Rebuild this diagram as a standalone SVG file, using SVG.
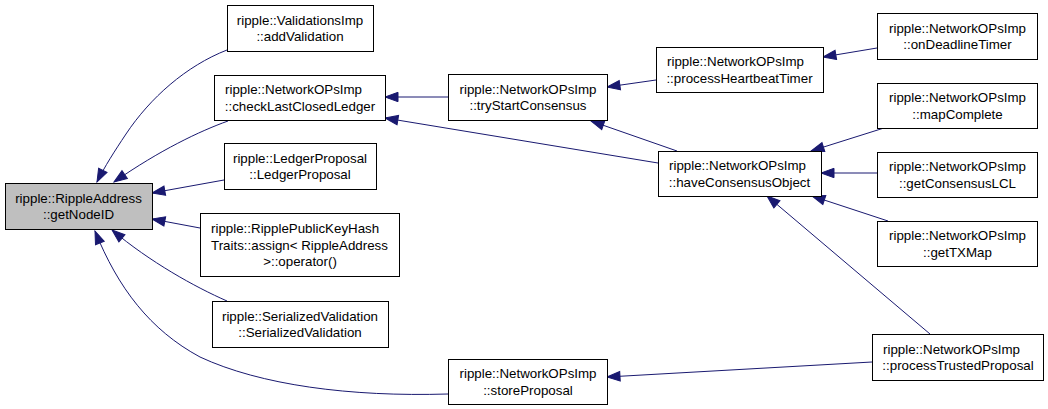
<svg xmlns="http://www.w3.org/2000/svg" width="1048" height="409" viewBox="0 0 1048 409">
<style>
.box{fill:#ffffff;stroke:#000000;stroke-width:1}
.hl{fill:#bfbfbf}
text{font-family:"Liberation Sans",Helvetica,Arial,sans-serif;font-size:13.33px;fill:#000000}
.m{text-anchor:middle}
.s{text-anchor:start}
.e{fill:none;stroke:#191970;stroke-width:1}
</style>
<defs>
<marker id="ah" markerUnits="userSpaceOnUse" markerWidth="15" markerHeight="11" refX="13" refY="4.7" orient="auto" overflow="visible">
<path d="M0,0 L13,4.7 L0,9.4 Z" fill="#191970" stroke="#191970" stroke-width="1"/>
</marker>
</defs>
<rect width="1048" height="409" fill="#ffffff"/>
<g id="connectors">
<path class="e" marker-end="url(#ah)" d="M227,50 C186,66 150,98 126,134 C114,152 105,166 97,182"/>
<path class="e" marker-end="url(#ah)" d="M228,121 C200,131 160,150 114,182"/>
<path class="e" marker-end="url(#ah)" d="M224,180 L152,193"/>
<path class="e" marker-end="url(#ah)" d="M200,228 L152,219"/>
<path class="e" marker-end="url(#ah)" d="M227,301 C195,287 150,262 112,230"/>
<path class="e" marker-end="url(#ah)" d="M448,394 C350,397 260,385 200,357 C150,330 118,288 95,231"/>
<path class="e" marker-end="url(#ah)" d="M448,97 L385,97"/>
<path class="e" marker-end="url(#ah)" d="M658,163 L385,118"/>
<path class="e" marker-end="url(#ah)" d="M656,80 L607,87"/>
<path class="e" marker-end="url(#ah)" d="M677,151 L591,121"/>
<path class="e" marker-end="url(#ah)" d="M877,48 L823,57"/>
<path class="e" marker-end="url(#ah)" d="M884,128 L811,151"/>
<path class="e" marker-end="url(#ah)" d="M877,173 L821,173"/>
<path class="e" marker-end="url(#ah)" d="M888,221 L812,196"/>
<path class="e" marker-end="url(#ah)" d="M930,334 L767,196"/>
<path class="e" marker-end="url(#ah)" d="M872,362 L607,377"/>
</g>
<g id="n_getNodeID">
<rect class="box hl" x="5.5" y="183.5" width="147" height="46"/>
<text class="m" x="78.5" y="202.5">ripple::RippleAddress</text>
<text class="m" x="78.5" y="219">::getNodeID</text>
</g>
<g id="n_addValidation">
<rect class="box" x="227.5" y="5.5" width="146" height="46"/>
<text class="m" x="300" y="24.5">ripple::ValidationsImp</text>
<text class="m" x="300" y="41">::addValidation</text>
</g>
<g id="n_checkLastClosedLedger">
<rect class="box" x="214.5" y="75.5" width="171" height="45"/>
<text class="s" x="225" y="94">ripple::NetworkOPsImp</text>
<text class="m" x="300" y="110.5">::checkLastClosedLedger</text>
</g>
<g id="n_LedgerProposal">
<rect class="box" x="224.5" y="143.5" width="152" height="46"/>
<text class="m" x="300" y="162.5">ripple::LedgerProposal</text>
<text class="m" x="300" y="179">::LedgerProposal</text>
</g>
<g id="n_assign">
<rect class="box" x="200.5" y="213.5" width="199" height="63"/>
<text class="s" x="211" y="233">ripple::RipplePublicKeyHash</text>
<text class="s" x="211" y="249.5">Traits::assign&lt; RippleAddress</text>
<text class="m" x="300" y="266">&gt;::operator()</text>
</g>
<g id="n_SerializedValidation">
<rect class="box" x="212.5" y="301.5" width="176" height="46"/>
<text class="m" x="300" y="320.5">ripple::SerializedValidation</text>
<text class="m" x="300" y="337">::SerializedValidation</text>
</g>
<g id="n_storeProposal">
<rect class="box" x="448.5" y="359.5" width="159" height="45"/>
<text class="m" x="528" y="378">ripple::NetworkOPsImp</text>
<text class="m" x="528" y="394.5">::storeProposal</text>
</g>
<g id="n_tryStartConsensus">
<rect class="box" x="448.5" y="74.5" width="159" height="46"/>
<text class="m" x="528" y="93.5">ripple::NetworkOPsImp</text>
<text class="m" x="528" y="110">::tryStartConsensus</text>
</g>
<g id="n_processHeartbeatTimer">
<rect class="box" x="656.5" y="47.5" width="167" height="45"/>
<text class="s" x="667" y="66">ripple::NetworkOPsImp</text>
<text class="m" x="739.5" y="82.5">::processHeartbeatTimer</text>
</g>
<g id="n_haveConsensusObject">
<rect class="box" x="658.5" y="151.5" width="163" height="45"/>
<text class="s" x="669" y="170">ripple::NetworkOPsImp</text>
<text class="m" x="739.5" y="186.5">::haveConsensusObject</text>
</g>
<g id="n_onDeadlineTimer">
<rect class="box" x="877.5" y="13.5" width="160" height="46"/>
<text class="m" x="957.5" y="32.5">ripple::NetworkOPsImp</text>
<text class="m" x="957.5" y="49">::onDeadlineTimer</text>
</g>
<g id="n_mapComplete">
<rect class="box" x="877.5" y="83.5" width="160" height="45"/>
<text class="m" x="957.5" y="102">ripple::NetworkOPsImp</text>
<text class="m" x="957.5" y="118.5">::mapComplete</text>
</g>
<g id="n_getConsensusLCL">
<rect class="box" x="877.5" y="152.5" width="160" height="45"/>
<text class="m" x="957.5" y="171">ripple::NetworkOPsImp</text>
<text class="m" x="957.5" y="187.5">::getConsensusLCL</text>
</g>
<g id="n_getTXMap">
<rect class="box" x="877.5" y="221.5" width="160" height="45"/>
<text class="m" x="957.5" y="240">ripple::NetworkOPsImp</text>
<text class="m" x="957.5" y="256.5">::getTXMap</text>
</g>
<g id="n_processTrustedProposal">
<rect class="box" x="872.5" y="334.5" width="171" height="46"/>
<text class="s" x="883" y="353.5">ripple::NetworkOPsImp</text>
<text class="m" x="958" y="370">::processTrustedProposal</text>
</g>
</svg>
